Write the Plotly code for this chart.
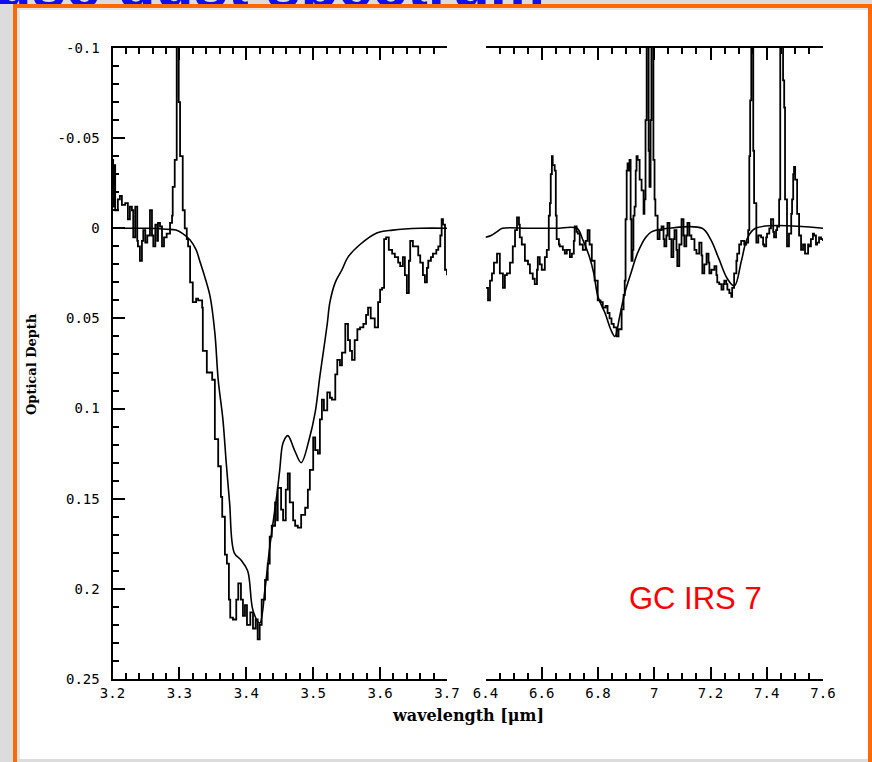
import plotly.graph_objects as go

W, H = 872, 762

# ---- 3.4 micron region: observed optical depth (GC IRS 7) ----
obs_wl_34 = [3.200, 3.201, 3.203, 3.204, 3.208, 3.211, 3.214, 3.219, 3.223, 3.226,
             3.229, 3.231, 3.234, 3.237, 3.238, 3.241, 3.244, 3.246, 3.249, 3.252,
             3.256, 3.259, 3.261, 3.264, 3.267, 3.268, 3.271, 3.274, 3.277, 3.281,
             3.286, 3.289, 3.290, 3.293, 3.296, 3.298, 3.299, 3.301, 3.302, 3.305,
             3.308, 3.311, 3.313, 3.316, 3.320, 3.325, 3.328, 3.334, 3.335, 3.341,
             3.349, 3.353, 3.358, 3.362, 3.364, 3.368, 3.371, 3.374, 3.376, 3.380,
             3.385, 3.388, 3.392, 3.395, 3.398, 3.401, 3.406, 3.410, 3.414, 3.417,
             3.420, 3.423, 3.428, 3.432, 3.435, 3.438, 3.443, 3.446, 3.447, 3.452,
             3.455, 3.459, 3.462, 3.465, 3.470, 3.473, 3.477, 3.482, 3.488, 3.492,
             3.495, 3.500, 3.503, 3.507, 3.510, 3.513, 3.516, 3.521, 3.525, 3.528,
             3.533, 3.536, 3.540, 3.543, 3.548, 3.552, 3.555, 3.558, 3.562, 3.566,
             3.570, 3.575, 3.579, 3.582, 3.586, 3.592, 3.597, 3.600, 3.603, 3.606,
             3.609, 3.613, 3.618, 3.622, 3.627, 3.630, 3.634, 3.637, 3.640, 3.643,
             3.645, 3.649, 3.652, 3.657, 3.660, 3.664, 3.667, 3.670, 3.672, 3.676,
             3.679, 3.684, 3.687, 3.690, 3.692, 3.694, 3.697, 3.700]
obs_tau_34 = [-0.038, -0.012, -0.035, -0.010, -0.016, -0.018, -0.013, -0.014, -0.005, -0.012,
              -0.010, 0.005, -0.012, 0.007, 0.010, 0.018, 0.007, 0.001, 0.008, 0.004,
              -0.010, 0.004, 0.010, -0.002, 0.007, -0.003, -0.001, 0.010, 0.005, 0.003,
              -0.003, -0.007, -0.023, -0.038, -0.130, -0.140, -0.070, -0.040, -0.040, -0.010,
              0.000, 0.006, 0.010, 0.030, 0.041, 0.039, 0.040, 0.044, 0.068, 0.080,
              0.084, 0.117, 0.132, 0.149, 0.160, 0.181, 0.186, 0.206, 0.216, 0.217,
              0.206, 0.197, 0.206, 0.215, 0.209, 0.220, 0.213, 0.222, 0.217, 0.228,
              0.220, 0.206, 0.195, 0.186, 0.171, 0.165, 0.152, 0.162, 0.144, 0.156,
              0.162, 0.145, 0.136, 0.152, 0.162, 0.165, 0.166, 0.159, 0.155, 0.145,
              0.134, 0.116, 0.123, 0.125, 0.106, 0.095, 0.101, 0.091, 0.094, 0.095,
              0.081, 0.073, 0.076, 0.069, 0.053, 0.062, 0.068, 0.073, 0.062, 0.056,
              0.055, 0.053, 0.048, 0.044, 0.050, 0.055, 0.041, 0.034, 0.033, 0.006,
              0.005, 0.012, 0.014, 0.016, 0.019, 0.021, 0.016, 0.026, 0.036, 0.018,
              0.007, 0.010, 0.010, 0.015, 0.019, 0.026, 0.030, 0.022, 0.018, 0.016,
              0.014, 0.012, 0.010, 0.004, -0.005, -0.002, 0.023, 0.026]

# ---- 3.4 micron region: fitted profile ----
fit_wl_34 = [3.200, 3.250, 3.280, 3.295, 3.305, 3.316, 3.325, 3.330, 3.338, 3.346,
             3.353, 3.358, 3.365, 3.370, 3.375, 3.382, 3.392, 3.402, 3.410, 3.420,
             3.428, 3.435, 3.446, 3.450, 3.455, 3.462, 3.472, 3.482, 3.494, 3.503,
             3.510, 3.515, 3.521, 3.525, 3.533, 3.543, 3.552, 3.570, 3.595, 3.619,
             3.660, 3.700]
fit_tau_34 = [0.000, 0.000, 0.0005, 0.001, 0.003, 0.0065, 0.012, 0.0176, 0.027, 0.038,
              0.058, 0.084, 0.106, 0.130, 0.152, 0.180, 0.184, 0.190, 0.212, 0.219,
              0.200, 0.177, 0.147, 0.134, 0.119, 0.115, 0.123, 0.130, 0.117, 0.102,
              0.082, 0.069, 0.053, 0.041, 0.030, 0.023, 0.016, 0.009, 0.0026, 0.001,
              0.000, 0.000]

# ---- 6-7.6 micron region: observed optical depth ----
obs_wl_68 = [6.402, 6.409, 6.416, 6.423, 6.430, 6.441, 6.451, 6.462, 6.469, 6.476,
             6.487, 6.497, 6.505, 6.512, 6.519, 6.522, 6.529, 6.540, 6.551, 6.558,
             6.568, 6.575, 6.583, 6.586, 6.593, 6.600, 6.611, 6.618, 6.625, 6.629,
             6.632, 6.636, 6.639, 6.646, 6.650, 6.653, 6.661, 6.664, 6.675, 6.682,
             6.689, 6.700, 6.707, 6.714, 6.717, 6.724, 6.728, 6.735, 6.746, 6.756,
             6.763, 6.770, 6.778, 6.788, 6.799, 6.809, 6.817, 6.827, 6.834, 6.841,
             6.848, 6.856, 6.866, 6.873, 6.884, 6.891, 6.895, 6.898, 6.902, 6.905,
             6.909, 6.912, 6.916, 6.919, 6.923, 6.926, 6.930, 6.934, 6.937, 6.941,
             6.948, 6.955, 6.962, 6.965, 6.969, 6.973, 6.976, 6.980, 6.983, 6.987,
             6.990, 6.994, 6.997, 7.001, 7.004, 7.012, 7.019, 7.026, 7.033, 7.036,
             7.043, 7.047, 7.054, 7.061, 7.068, 7.072, 7.079, 7.082, 7.089, 7.097,
             7.104, 7.107, 7.114, 7.118, 7.125, 7.132, 7.143, 7.150, 7.160, 7.168,
             7.171, 7.178, 7.186, 7.193, 7.196, 7.203, 7.214, 7.221, 7.224, 7.231,
             7.239, 7.246, 7.249, 7.256, 7.260, 7.267, 7.274, 7.277, 7.284, 7.292,
             7.295, 7.302, 7.309, 7.320, 7.327, 7.334, 7.338, 7.341, 7.345, 7.348,
             7.352, 7.355, 7.363, 7.370, 7.380, 7.387, 7.391, 7.398, 7.401, 7.409,
             7.415, 7.423, 7.426, 7.433, 7.437, 7.444, 7.448, 7.451, 7.458, 7.462,
             7.465, 7.472, 7.479, 7.487, 7.490, 7.494, 7.497, 7.501, 7.508, 7.515,
             7.522, 7.529, 7.536, 7.540, 7.547, 7.550, 7.557, 7.564, 7.568, 7.575,
             7.579, 7.586, 7.593, 7.600]
obs_tau_68 = [0.033, 0.040, 0.029, 0.025, 0.019, 0.014, 0.025, 0.033, 0.026, 0.025,
              0.019, 0.010, 0.001, -0.006, -0.002, 0.005, 0.009, 0.018, 0.020, 0.025,
              0.028, 0.031, 0.023, 0.016, 0.020, 0.023, 0.016, 0.012, -0.007, -0.014,
              -0.030, -0.040, -0.035, -0.032, -0.007, 0.006, 0.009, 0.010, 0.012, 0.014,
              0.012, 0.016, 0.014, 0.007, -0.001, 0.002, 0.003, 0.009, 0.012, 0.007,
              0.001, 0.009, 0.018, 0.029, 0.040, 0.041, 0.044, 0.043, 0.047, 0.050,
              0.053, 0.055, 0.060, 0.056, 0.045, 0.037, 0.029, -0.005, -0.032, -0.036,
              -0.032, -0.038, -0.005, 0.018, 0.012, -0.007, -0.012, -0.032, -0.040, -0.038,
              -0.027, -0.021, -0.008, -0.016, -0.060, -0.130, -0.130, -0.043, -0.023, -0.060,
              -0.130, -0.130, -0.038, -0.016, -0.007, 0.006, 0.001, -0.001, 0.006, 0.010,
              0.004, -0.003, 0.006, 0.016, 0.006, 0.001, 0.012, 0.021, 0.009, -0.005,
              0.004, 0.010, 0.004, -0.003, 0.004, 0.006, 0.012, 0.014, 0.008, 0.015,
              0.025, 0.020, 0.014, 0.019, 0.025, 0.023, 0.021, 0.026, 0.030, 0.031,
              0.034, 0.031, 0.029, 0.031, 0.034, 0.036, 0.038, 0.033, 0.025, 0.018,
              0.014, 0.009, 0.007, 0.009, 0.008, 0.001, -0.040, -0.071, -0.130, -0.130,
              -0.043, -0.014, 0.008, 0.004, 0.005, 0.009, 0.010, 0.005, 0.003, 0.000,
              -0.005, 0.002, 0.005, 0.001, -0.001, -0.016, -0.130, -0.130, -0.082, -0.067,
              -0.016, 0.010, 0.003, -0.008, -0.016, -0.030, -0.034, -0.027, -0.008, 0.004,
              0.012, 0.009, 0.014, 0.014, 0.009, 0.010, 0.006, 0.003, 0.004, 0.009,
              0.008, 0.005, 0.006, 0.007]

# ---- 6-7.6 micron region: fitted profile ----
fit_wl_68 = [6.400, 6.420, 6.440, 6.460, 6.550, 6.650, 6.725, 6.745, 6.770, 6.785,
             6.800, 6.825, 6.845, 6.860, 6.877, 6.895, 6.917, 6.940, 6.970, 6.990,
             7.050, 7.170, 7.200, 7.230, 7.260, 7.285, 7.310, 7.330, 7.360, 7.600]
fit_tau_68 = [0.005, 0.004, 0.002, 0.000, 0.000, 0.000, 0.000, 0.006, 0.016, 0.025,
              0.038, 0.047, 0.056, 0.060, 0.049, 0.036, 0.025, 0.014, 0.005, 0.002,
              0.000, 0.000, 0.006, 0.017, 0.028, 0.032, 0.018, 0.006, 0.000, 0.000]

# ---- axis ticks ----
x_ticks_left = [3.2, 3.3, 3.4, 3.5, 3.6, 3.7]
x_ticks_right = [6.4, 6.6, 6.8, 7.0, 7.2, 7.4, 7.6]
x_text_right = ["6.4", "6.6", "6.8", "7", "7.2", "7.4", "7.6"]
y_ticks = [-0.1, -0.05, 0, 0.05, 0.1, 0.15, 0.2, 0.25]
y_tick_text = ["-0.1", "-0.05", "0", "0.05", "0.1", "0.15", "0.2", "0.25"]

title_text = "Diffuse dust spectrum"
source_label = "GC IRS 7"


def px(x):
    return x / W


def py(y):
    return 1 - y / H


line_style = dict(color="black", width=1.8, shape="hv")

fig = go.Figure()
fig.add_trace(go.Scatter(x=obs_wl_34, y=obs_tau_34, mode="lines", line=line_style,
                         xaxis="x", yaxis="y", showlegend=False))
fig.add_trace(go.Scatter(x=fit_wl_34, y=fit_tau_34, mode="lines",
                         line=dict(color="black", width=1.6, shape="spline"),
                         xaxis="x", yaxis="y", showlegend=False))
fig.add_trace(go.Scatter(x=obs_wl_68, y=obs_tau_68, mode="lines", line=line_style,
                         xaxis="x2", yaxis="y", showlegend=False))
fig.add_trace(go.Scatter(x=fit_wl_68, y=fit_tau_68, mode="lines",
                         line=dict(color="black", width=1.6, shape="spline"),
                         xaxis="x2", yaxis="y", showlegend=False))

# slide heading, only its lower edge shows above the frame
fig.add_trace(go.Scatter(x=[545], y=[12.5], mode="text", text=[f"<b>{title_text}</b>"],
                         textposition="middle left", cliponaxis=True,
                         textfont=dict(family="Liberation Sans", size=62, color="#1010ee"),
                         xaxis="x3", yaxis="y3", showlegend=False, hoverinfo="skip"))

tick_font = dict(family="DejaVu Sans Mono", size=14, color="black")
common_x = dict(showline=True, linecolor="black", linewidth=2, mirror="ticks",
                ticks="inside", ticklen=12, tickwidth=2, tickcolor="black",
                showgrid=False, zeroline=False, tickfont=tick_font, tickmode="array",
                automargin=False)


def rect(x0, x1, y0, y1, color, layer):
    return dict(type="rect", xref="paper", yref="paper", x0=px(x0), x1=px(x1),
                y0=py(y1), y1=py(y0), fillcolor=color, line=dict(width=0), layer=layer)


fig.update_layout(
    template="none",
    width=W, height=H,
    autosize=False,
    margin=dict(l=0, r=0, t=0, b=0, pad=0, autoexpand=False),
    paper_bgcolor="#dcdcdc",
    plot_bgcolor="rgba(0,0,0,0)",
    showlegend=False,
    xaxis=dict(domain=[px(112.5), px(447)], range=[3.2, 3.7], tickvals=x_ticks_left,
               anchor="y",
               minor=dict(dtick=0.02, tick0=3.2, ticks="inside", ticklen=6, tickwidth=1.6,
                          tickcolor="black", showgrid=False),
               **common_x),
    xaxis2=dict(domain=[px(485.5), px(823)], range=[6.4, 7.6], tickvals=x_ticks_right,
                ticktext=x_text_right, anchor="y",
                minor=dict(dtick=0.05, tick0=6.4, ticks="inside", ticklen=6, tickwidth=1.6,
                           tickcolor="black", showgrid=False),
                **common_x),
    yaxis=dict(domain=[py(679), py(48)], range=[0.25, -0.1], anchor="x",
               tickmode="array", tickvals=y_ticks, ticktext=y_tick_text,
               showline=True, linecolor="black", linewidth=2, mirror=False,
               ticks="inside", ticklen=12, tickwidth=2, tickcolor="black",
               minor=dict(dtick=0.01, tick0=0, ticks="inside", ticklen=6, tickwidth=1.6,
                          tickcolor="black", showgrid=False),
               showgrid=False, zeroline=False, tickfont=tick_font, ticklabelstandoff=8,
               automargin=False),
    xaxis3=dict(domain=[0, 1], range=[0, W], visible=False, anchor="y3", automargin=False),
    yaxis3=dict(domain=[py(4), 1], range=[0, 4], visible=False, anchor="x3", automargin=False),
    shapes=[
        rect(17, 20, 8, 759, "#e6e6e6", "below"),
        rect(20, 868, 10, 759, "white", "below"),
        rect(13, 17, 4, 762, "#ff6a00", "below"),
        rect(868, 872, 4, 762, "#ff6a00", "below"),
        # frame top edge drawn over the heading so only its lower rim shows
        rect(13, 868, 4, 8, "#ff6a00", "above"),
        rect(868, 872, 4, 8, "#ff6a00", "above"),
        rect(17, 868, 8, 10, "#e6e6e6", "above"),
        rect(20, 868, 10, 40, "white", "above"),
    ],
    annotations=[
        dict(text=source_label, xref="paper", yref="paper", x=px(627), y=py(598),
             xanchor="left", yanchor="middle", showarrow=False,
             font=dict(family="Liberation Sans", size=31, color="#ff0000")),
        dict(text="<b>wavelength [μm]</b>", xref="paper", yref="paper", x=px(468), y=py(715),
             xanchor="center", yanchor="middle", showarrow=False,
             font=dict(family="DejaVu Serif", size=16, color="black")),
        dict(text="<b>Optical Depth</b>", xref="paper", yref="paper", x=px(31), y=py(364),
             xanchor="center", yanchor="middle", showarrow=False, textangle=-90,
             font=dict(family="DejaVu Serif", size=13, color="black")),
    ],
)

# page without the default body margin, figure pinned to its full size
page_fix = (
    "document.documentElement.style.margin='0';"
    "document.body.style.margin='0';document.body.style.padding='0';"
    "document.body.style.overflow='hidden';"
    "var gd=document.getElementById('{plot_id}');"
    "Plotly.relayout(gd,{width:%d,height:%d});" % (W, H)
)

fig.write_html("out.html", post_script=page_fix)
